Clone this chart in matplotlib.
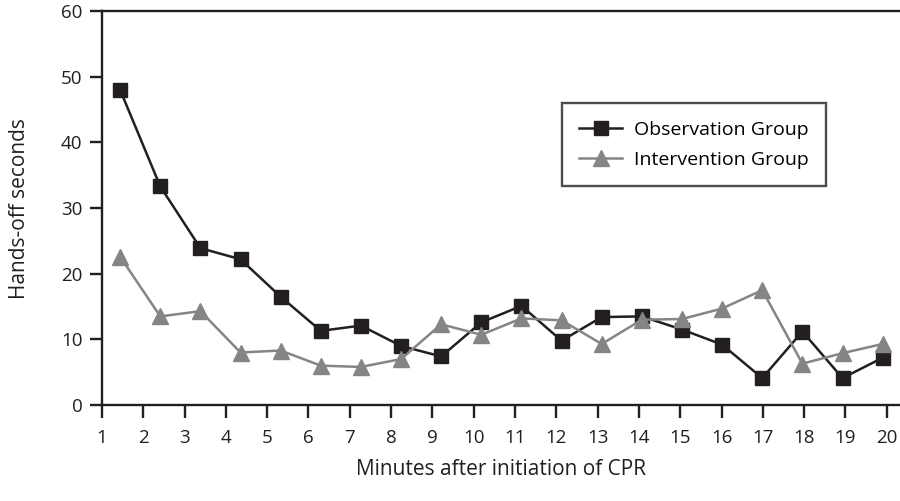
import matplotlib.pyplot as plt
import numpy as np

plt.rcParams['font.family'] = ['Open Sans', 'DejaVu Sans']

minutes = np.arange(1, 21)
observation = [48.0, 33.3, 23.9, 22.2, 16.5, 11.3, 12.1, 9.0, 7.4, 12.6,
               15.1, 9.8, 13.4, 13.5, 11.5, 9.2, 4.1, 11.2, 4.1, 7.2]
intervention = [22.6, 13.5, 14.3, 8.0, 8.3, 6.0, 5.8, 7.0, 12.3, 10.7,
                13.2, 12.9, 9.3, 13.0, 13.1, 14.7, 17.5, 6.3, 7.9, 9.3]

# points sit a bit right of each tick, like the original
x = np.linspace(1.44, 19.9, len(minutes))

ink = '#231f20'
fig = plt.figure(figsize=(9, 5.01), dpi=100)
ax = fig.add_axes([0.1133, 0.1916, 0.8867, 0.786])

ax.plot(x, observation, color=ink, lw=1.8, marker='s', ms=10,
        mfc=ink, mec=ink, label='Observation Group')
ax.plot(x, intervention, color='#858585', lw=1.8, marker='^', ms=11,
        mfc='#858585', mec='#858585', label='Intervention Group')

ax.set_xlim(1, 20.32)
ax.set_ylim(0, 60)
ax.set_xticks(minutes)
ax.set_yticks(np.arange(0, 61, 10))
ax.tick_params(axis='both', direction='out', length=9, width=1.7,
               color=ink, labelsize=13.5, labelcolor=ink)
ax.tick_params(axis='x', pad=8)
ax.tick_params(axis='y', pad=5)

for side in ['left', 'bottom', 'top']:
    ax.spines[side].set_linewidth(1.7)
    ax.spines[side].set_color(ink)
ax.spines['right'].set_visible(False)

ax.set_ylabel('Hands-off seconds', fontsize=15, color=ink, labelpad=22)
ax.set_xlabel('Minutes after initiation of CPR', fontsize=15, color=ink, labelpad=9)

leg = ax.legend(loc='upper left', bbox_to_anchor=(0.576, 0.766), borderaxespad=0,
                fontsize=14, frameon=True, fancybox=False, handlelength=2.2,
                borderpad=0.9, labelspacing=0.6, handletextpad=0.6)
leg.get_frame().set_edgecolor(ink)
leg.get_frame().set_linewidth(1.7)

fig.savefig('out.png', dpi=100)
